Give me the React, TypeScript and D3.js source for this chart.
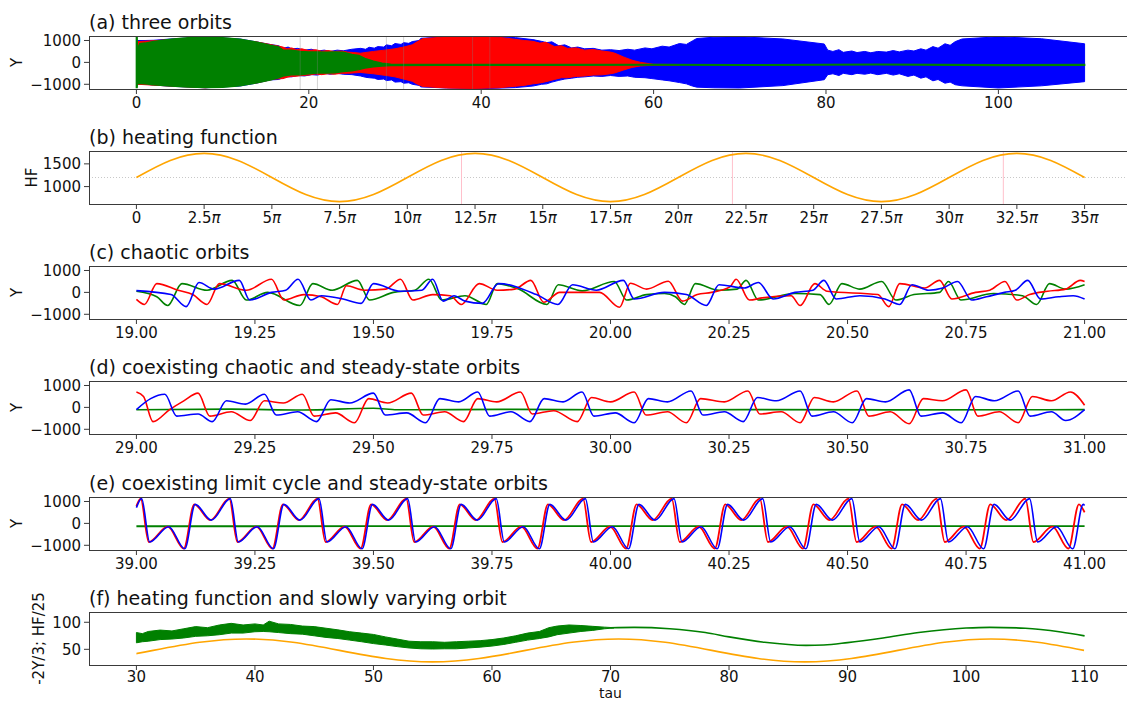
import React from "react";
import * as d3 from "d3";

const FONT = "'DejaVu Sans', Verdana, sans-serif";
const W = 1127;
const H = 702;
const AX_L = 89;
const AX_R = 1132;
const PH = 53;
const TOPS = [36, 151, 266, 381, 497, 612];

// ---------- (a) three orbits : envelopes [tau, upper, lower] ----------
const aBlue: [number, number, number][] = [
  [0.15, 1000, -1000], [1, 1000, -1000], [2, 1010, -1030], [4, 1070, -1090], [8, 1160, -1160],
  [12, 1070, -1080], [14, 930, -940], [15.5, 820, -800], [16.5, 760, -780], [17, 640, -700],
  [17.6, 700, -650], [18, 620, -660], [18.7, 640, -600], [19.5, 560, -620], [20.3, 600, -560],
  [21, 520, -580], [21.8, 560, -500], [22.5, 500, -540], [23.3, 560, -500], [24, 530, -540],
  [25, 600, -560], [26, 640, -620], [26.6, 600, -680], [27, 690, -700], [27.6, 650, -720],
  [28, 720, -780], [28.7, 700, -760], [29, 800, -830], [29.6, 760, -800], [30, 860, -900],
  [30.7, 820, -880], [31, 900, -950], [31.6, 870, -930], [32, 950, -1000], [32.8, 1000, -1050],
  [33, 1100, -1120], [36, 1170, -1170], [40, 1200, -1200], [44, 1130, -1150], [46, 1040, -1080],
  [47, 960, -1000], [47.6, 900, -980], [48.2, 940, -900], [49, 760, -820], [49.7, 800, -760],
  [50.5, 660, -720], [51.2, 700, -680], [52, 620, -660], [53, 640, -620], [54, 560, -640],
  [55, 580, -600], [56, 540, -640], [57, 600, -620], [57.8, 560, -680], [59, 660, -700],
  [59.8, 620, -740], [61, 740, -800], [61.8, 700, -840], [63, 860, -920], [63.8, 820, -980],
  [64.5, 980, -1080], [65, 1090, -1130], [67, 1150, -1160], [70, 1170, -1170], [75, 1070, -1060],
  [79.8, 840, -790], [80.2, 560, -560], [80.8, 500, -520], [81.5, 580, -600], [82, 460, -500],
  [83, 520, -560], [83.6, 450, -500], [84.5, 500, -540], [85.2, 440, -490], [86, 500, -560],
  [87, 470, -500], [87.8, 540, -580], [88.5, 480, -520], [89.5, 560, -640], [90.2, 520, -580],
  [91, 620, -720], [91.6, 560, -660], [92.4, 720, -840], [93, 650, -780], [93.8, 850, -950],
  [94.4, 780, -900], [95, 950, -1020], [95.8, 1070, -1070], [100, 1170, -1170], [105, 1080, -1070],
  [110, 850, -880],
];
const aRed: [number, number, number][] = [
  [0.15, 950, -1000], [2, 990, -1040], [8, 1150, -1160], [14, 930, -930], [16, 780, -760],
  [17, 700, -740], [17.5, 620, -680], [18, 660, -640], [18.6, 580, -630], [19.2, 620, -600],
  [20, 540, -580], [20.8, 580, -530], [21.5, 510, -560], [22.2, 540, -520], [23, 500, -540],
  [23.8, 520, -500], [24.5, 470, -500], [25.2, 450, -480], [26, 420, -460], [27.5, 500, -520],
  [29, 570, -600], [30, 620, -660], [31, 700, -760], [32, 800, -860], [32.6, 950, -1000],
  [33.2, 1080, -1100], [36, 1170, -1170], [39, 1190, -1190], [42, 1150, -1160], [45, 1000, -1050],
  [46, 960, -980], [46.8, 880, -940], [47.5, 920, -880], [48.5, 720, -780], [49.3, 760, -700],
  [50, 640, -700], [51, 660, -640], [52, 560, -620], [53, 590, -580], [54, 520, -570],
  [55, 470, -520], [55.5, 420, -480], [56.5, 250, -350], [57.5, 100, -230], [58.5, 0, -160],
  [59.5, -60, -140], [60, -90, -130], [63, -95, -125],
];
const aGreen: [number, number, number][] = [
  [0, 1160, -1150], [0.08, 1160, -1150], [0.12, 600, -950], [0.4, 850, -960], [1, 880, -980],
  [2, 950, -1020], [4, 1060, -1080], [6, 1120, -1120], [8, 1150, -1150], [10, 1130, -1130],
  [12, 1060, -1070], [14, 920, -930], [15.5, 780, -800], [16.5, 700, -700], [17, 560, -620],
  [18, 560, -560], [19, 500, -560], [20, 480, -520], [21, 470, -480], [22, 460, -480],
  [23, 470, -470], [24, 460, -420], [25, 360, -380], [25.8, 320, -330], [26.5, 180, -260],
  [27.5, 50, -200], [28.5, -40, -160], [29.5, -90, -140], [35, -100, -128], [50, -102, -130],
  [60, -96, -124], [70, -108, -136], [86, -80, -108], [100, -112, -140], [110, -100, -128],
];
const aMarks = [19, 21, 29, 31, 39, 41];
const aXTicks = [0, 20, 40, 60, 80, 100];

// ---------- (b) heating function ----------
const hfTauPi = [0, 1.25, 2.5, 3.75, 5, 6.25, 7.5, 8.75, 10, 11.25, 12.5, 13.75, 15, 16.25, 17.5,
  18.75, 20, 21.25, 22.5, 23.75, 25, 26.25, 27.5, 28.75, 30, 31.25, 32.5, 33.75, 35];
const hfValues = [1200, 1575, 1730, 1575, 1200, 825, 670, 825, 1200, 1575, 1730, 1575, 1200, 825,
  670, 825, 1200, 1575, 1730, 1575, 1200, 825, 670, 825, 1200, 1575, 1730, 1575, 1200];
const hfMean = 1200;
const bMarksPi = [12, 22, 32];
const bXTicksPi = [0, 2.5, 5, 7.5, 10, 12.5, 15, 17.5, 20, 22.5, 25, 27.5, 30, 32.5, 35];

// ---------- (c) chaotic orbits ----------
const cGreen: [number, number][] = [
  [19.0, 50], [19.043, -200], [19.066, -600], [19.096, 400], [19.149, 100], [19.202, 550],
  [19.232, -350], [19.277, 0], [19.345, -600], [19.372, 400], [19.413, 100], [19.466, 550],
  [19.492, -350], [19.542, 0], [19.587, 100], [19.617, 600], [19.644, -350], [19.693, -150],
  [19.738, -550], [19.761, 400], [19.806, 150], [19.866, -550], [19.89, 350], [19.94, 70],
  [20.008, 500], [20.034, -350], [20.076, -100], [20.114, -50], [20.137, -200], [20.156, -550],
  [20.179, 400], [20.229, 100], [20.267, 150], [20.286, 550], [20.312, -350], [20.389, -50],
  [20.442, -100], [20.461, -550], [20.488, 400], [20.526, 150], [20.572, 500], [20.602, -350],
  [20.64, -100], [20.694, 0], [20.713, 500], [20.739, -350], [20.808, -50], [20.869, -150],
  [20.899, -550], [20.926, 400], [20.96, 150], [21.0, 350],
];
const cBlue: [number, number][] = [
  [19.0, 80], [19.073, -100], [19.105, -650], [19.132, 450], [19.164, 150], [19.217, 550],
  [19.239, -350], [19.285, 0], [19.315, 100], [19.341, 600], [19.368, -350], [19.39, -150],
  [19.436, -300], [19.474, -500], [19.5, 400], [19.557, 50], [19.602, 100], [19.625, 600],
  [19.647, -400], [19.67, -150], [19.693, -400], [19.73, -500], [19.764, 400], [19.844, -100],
  [19.889, -550], [19.92, 350], [19.97, 100], [20.027, 550], [20.05, -300], [20.114, 0],
  [20.16, -100], [20.202, -600], [20.229, 350], [20.282, 200], [20.312, 450], [20.343, -300],
  [20.389, 0], [20.427, 100], [20.45, 550], [20.476, -300], [20.526, -150], [20.579, -300],
  [20.61, -550], [20.636, 350], [20.671, 100], [20.701, 200], [20.732, 500], [20.762, -350],
  [20.793, -200], [20.831, 0], [20.854, 100], [20.88, 550], [20.907, -300], [20.945, -200],
  [20.976, -150], [21.0, -300],
];
const cRed: [number, number][] = [
  [19.0, -320], [19.017, -550], [19.043, 400], [19.088, 100], [19.119, -100], [19.149, -550],
  [19.175, 400], [19.232, 100], [19.285, 600], [19.311, -350], [19.353, -100], [19.39, -200],
  [19.424, -550], [19.443, 300], [19.481, 100], [19.526, 150], [19.557, 600], [19.583, -350],
  [19.625, -100], [19.662, -150], [19.685, -550], [19.723, 400], [19.761, 100], [19.798, 150],
  [19.832, 550], [19.859, -450], [19.893, 0], [19.977, 0], [20.019, -680], [20.042, 420],
  [20.076, 150], [20.122, 510], [20.152, -400], [20.183, -100], [20.213, 0], [20.252, 250],
  [20.265, 600], [20.293, -350], [20.32, -250], [20.381, -150], [20.4, -600], [20.431, 400],
  [20.457, 50], [20.564, -100], [20.587, -650], [20.61, 400], [20.663, 200], [20.694, 550],
  [20.72, -300], [20.77, 0], [20.8, 100], [20.832, 500], [20.857, -350], [20.884, -100],
  [20.922, 50], [20.96, 150], [20.991, 550], [21.0, 500],
];

// ---------- (d) coexisting chaotic and steady-state orbits ----------
const dRed: [number, number][] = [
  [29.0, 700], [29.015, 500], [29.035, -650], [29.07, -100], [29.1, 300], [29.13, 650],
  [29.155, -400], [29.2, -200], [29.24, -600], [29.27, 300], [29.31, 200], [29.35, 600],
  [29.375, -400], [29.42, -250], [29.46, -700], [29.49, 400], [29.53, 200], [29.58, 650],
  [29.605, -350], [29.65, -200], [29.69, -650], [29.72, 400], [29.76, 250], [29.81, 700],
  [29.835, -300], [29.88, -150], [29.93, -650], [29.96, 450], [30.0, 250], [30.05, 700],
  [30.075, -350], [30.12, -200], [30.16, -700], [30.19, 400], [30.24, 250], [30.29, 750],
  [30.315, -300], [30.36, -200], [30.4, -700], [30.43, 450], [30.47, 250], [30.52, 750],
  [30.545, -400], [30.59, -200], [30.63, -750], [30.66, 400], [30.7, 300], [30.75, 800],
  [30.775, -400], [30.82, -200], [30.86, -700], [30.89, 500], [30.93, 300], [30.97, 700],
  [31.0, 100],
];
const dBlue: [number, number][] = [
  [29.0, -100], [29.03, 400], [29.06, 600], [29.085, -400], [29.13, -300], [29.16, -650],
  [29.19, 300], [29.23, 150], [29.27, 600], [29.295, -350], [29.34, -200], [29.38, -650],
  [29.41, 350], [29.45, 200], [29.5, 650], [29.525, -350], [29.57, -250], [29.61, -700],
  [29.64, 400], [29.68, 250], [29.72, 700], [29.745, -400], [29.79, -200], [29.83, -650],
  [29.86, 400], [29.9, 250], [29.94, 700], [29.965, -400], [30.01, -250], [30.05, -700],
  [30.08, 400], [30.12, 250], [30.17, 750], [30.195, -350], [30.24, -200], [30.28, -650],
  [30.31, 450], [30.35, 300], [30.4, 750], [30.425, -400], [30.47, -200], [30.51, -700],
  [30.54, 400], [30.58, 250], [30.63, 800], [30.655, -400], [30.7, -250], [30.74, -700],
  [30.77, 500], [30.81, 300], [30.86, 750], [30.885, -400], [30.93, -200], [30.96, -600],
  [31.0, -100],
];
const dGreen: [number, number][] = [
  [29.0, -110], [29.2, -80], [29.35, -120], [29.5, -40], [29.55, -110], [29.8, -90],
  [30.0, -110], [30.3, -100], [30.6, -115], [31.0, -100],
];

// ---------- (e) coexisting limit cycle and steady-state orbits ----------
const eRed: [number, number][] = [
  [39.0, 790],
  [39.009, 1130], [39.026, -850], [39.066, -150], [39.1, -1150], [39.122, 870], [39.156, 150],
  [39.196, 1130], [39.213, -850], [39.253, -150], [39.287, -1150], [39.309, 870], [39.343, 150],
  [39.382, 1130], [39.399, -850], [39.439, -150], [39.473, -1150], [39.495, 870], [39.529, 150],
  [39.569, 1130], [39.586, -850], [39.626, -150], [39.66, -1150], [39.682, 870], [39.716, 150],
  [39.755, 1130], [39.772, -850], [39.812, -150], [39.846, -1150], [39.868, 870], [39.902, 150],
  [39.942, 1130], [39.959, -850], [39.999, -150], [40.033, -1150], [40.055, 870], [40.089, 150],
  [40.129, 1130], [40.146, -850], [40.186, -150], [40.22, -1150], [40.242, 870], [40.276, 150],
  [40.315, 1130], [40.332, -850], [40.372, -150], [40.406, -1150], [40.428, 870], [40.462, 150],
  [40.502, 1130], [40.519, -850], [40.559, -150], [40.593, -1150], [40.615, 870], [40.649, 150],
  [40.688, 1130], [40.705, -850], [40.745, -150], [40.779, -1150], [40.801, 870], [40.835, 150],
  [40.875, 1130], [40.892, -850], [40.932, -150], [40.966, -1150], [40.988, 870], [41.0, 500],
];
const eBlue: [number, number][] = [
  [39.0, 720],
  [39.011, 1130], [39.028, -850], [39.068, -150], [39.102, -1160], [39.124, 870], [39.158, 150],
  [39.198, 1130], [39.215, -850], [39.255, -150], [39.289, -1160], [39.311, 870], [39.345, 150],
  [39.385, 1130], [39.402, -850], [39.442, -150], [39.476, -1160], [39.498, 870], [39.532, 150],
  [39.572, 1130], [39.589, -850], [39.629, -150], [39.663, -1160], [39.685, 870], [39.719, 150],
  [39.759, 1130], [39.776, -850], [39.816, -150], [39.85, -1160], [39.872, 870], [39.906, 150],
  [39.947, 1130], [39.964, -850], [40.004, -150], [40.038, -1160], [40.06, 870], [40.094, 150],
  [40.134, 1130], [40.151, -850], [40.191, -150], [40.225, -1160], [40.247, 870], [40.281, 150],
  [40.321, 1130], [40.338, -850], [40.378, -150], [40.412, -1160], [40.434, 870], [40.468, 150],
  [40.509, 1130], [40.526, -850], [40.566, -150], [40.6, -1160], [40.622, 870], [40.656, 150],
  [40.696, 1130], [40.713, -850], [40.753, -150], [40.787, -1160], [40.809, 870], [40.843, 150],
  [40.884, 1130], [40.901, -850], [40.941, -150], [40.975, -1160], [40.997, 870], [41.0, 820],
];
const eGreen: [number, number][] = [[39.0, -130], [40.0, -128], [41.0, -125]];

// ---------- (f) heating function and slowly varying orbit ----------
const fBand: [number, number, number][] = [
  [30, 81, 62], [30.5, 79, 64], [31, 83, 65], [32, 85.6, 68], [33, 84, 69], [34, 88, 71],
  [35, 92, 74], [36, 90, 75], [37, 95, 77], [38, 98, 80], [39, 95, 80], [40, 97, 82.5],
  [40.7, 95, 83], [41.2, 102, 82.5], [42, 97, 81], [43, 96, 79], [44, 93, 78], [45, 92, 75],
  [46, 89, 72], [47, 86, 70], [48, 82.5, 67], [49, 80, 64], [50, 77.5, 60.6], [51, 73, 58],
  [52, 69, 55], [53, 65, 52.5], [54, 64, 51], [55, 64, 50.6], [56, 63, 51], [57, 64, 51],
  [58, 65, 52.5], [59, 66, 54], [60, 68, 56], [61, 71, 59], [62, 75, 63], [63, 80, 67],
  [64, 83, 70], [64.8, 90, 73], [65.5, 93, 77], [66.5, 95, 80], [67.5, 94, 83], [68.5, 92.5, 85],
  [69.5, 91, 88], [70.3, 90, 89.5],
];
const fSteady: [number, number][] = [
  [70, 90], [72, 90.5], [75, 88], [78, 81], [80, 73], [83, 63], [86.5, 57.3], [88, 58],
  [90, 62.4], [93, 71], [96, 81], [100, 89.3], [102, 90.6], [105, 89], [108, 82], [110, 74.9],
];
const fXTicks = [30, 40, 50, 60, 70, 80, 90, 100, 110];
const yTicksY = [-1000, 0, 1000];

const fmt2 = (v: number) => v.toFixed(2);
const minus = (v: number) => (v < 0 ? "\u2212" + Math.abs(v) : String(v));

type Tick = { v: number; label: React.ReactNode };

function Panel(props: {
  id: string;
  top: number;
  xs: d3.ScaleLinear<number, number>;
  ys: d3.ScaleLinear<number, number>;
  xTicks: Tick[];
  yTicks: Tick[];
  title: string;
  ylabel: string;
  ylabelX: number;
  xLabelDy?: number;
  children: React.ReactNode;
}) {
  const { id, top, xs, ys, xTicks, yTicks, title, ylabel, ylabelX, children } = props;
  const bottom = top + PH;
  const xdy = props.xLabelDy ?? 19;
  return (
    <g>
      <defs>
        <clipPath id={id}>
          <rect x={AX_L} y={top} width={AX_R - AX_L} height={PH} />
        </clipPath>
      </defs>
      <g clipPath={`url(#${id})`}>{children}</g>
      <rect x={AX_L + 0.5} y={top + 0.5} width={AX_R - AX_L} height={PH} fill="none" stroke="#3a3a3a" strokeWidth={1} />
      {xTicks.map((t, i) => (
        <g key={"x" + i}>
          <line x1={xs(t.v)} x2={xs(t.v)} y1={bottom} y2={bottom + 5} stroke="#3a3a3a" strokeWidth={1} />
          <text x={xs(t.v)} y={bottom + xdy} textAnchor="middle" fontSize={15} fill="#111">
            {t.label}
          </text>
        </g>
      ))}
      {yTicks.map((t, i) => (
        <g key={"y" + i}>
          <line x1={AX_L - 5} x2={AX_L} y1={ys(t.v)} y2={ys(t.v)} stroke="#3a3a3a" strokeWidth={1} />
          <text x={AX_L - 8} y={ys(t.v)} dy="0.36em" textAnchor="end" fontSize={15} fill="#111">
            {t.label}
          </text>
        </g>
      ))}
      <text x={AX_L} y={top - 7} fontSize={19} fill="#111">
        {title}
      </text>
      <text
        transform={`translate(${ylabelX},${top + PH / 2}) rotate(-90)`}
        textAnchor="middle"
        fontSize={15}
        fill="#111"
      >
        {ylabel}
      </text>
    </g>
  );
}

function piLabel(v: number): React.ReactNode {
  if (v === 0) return "0";
  return (
    <>
      {String(v)}
      <tspan fontStyle="italic">π</tspan>
    </>
  );
}

export default function App() {
  const yY = (top: number) => d3.scaleLinear().domain([-1215, 1205]).range([top + PH, top]);

  // (a)
  const xa = d3.scaleLinear().domain([-5.5, 115.5]).range([AX_L, AX_R]);
  const ya = yY(TOPS[0]);
  const areaA = d3
    .area<[number, number, number]>()
    .x((d) => xa(d[0]))
    .y0((d) => ya(d[2]))
    .y1((d) => ya(d[1]))
    .curve(d3.curveLinear);

  // (b)
  const PI = Math.PI;
  const xb = d3.scaleLinear().domain([-1.75 * PI, 36.75 * PI]).range([AX_L, AX_R]);
  const yb = d3.scaleLinear().domain([617, 1783]).range([TOPS[1] + PH, TOPS[1]]);
  const hfPts: [number, number][] = hfTauPi.map((t, i) => [t * PI, hfValues[i]]);
  const lineB = d3
    .line<[number, number]>()
    .x((d) => xb(d[0]))
    .y((d) => yb(d[1]))
    .curve(d3.curveNatural);

  // (c),(d),(e)
  const mkX = (a: number) => d3.scaleLinear().domain([a - 0.1, a + 2.1]).range([AX_L, AX_R]);
  const xc = mkX(19), xd = mkX(29), xe = mkX(39);
  const yc = yY(TOPS[2]), yd = yY(TOPS[3]), ye = yY(TOPS[4]);
  const mkLine = (xs: d3.ScaleLinear<number, number>, ys: d3.ScaleLinear<number, number>) =>
    d3
      .line<[number, number]>()
      .x((d) => xs(d[0]))
      .y((d) => ys(d[1]))
      .curve(d3.curveMonotoneX);
  const lc = mkLine(xc, yc), ld = mkLine(xd, yd), le = mkLine(xe, ye);
  const ticks8 = (a: number) => d3.range(0, 9).map((i) => a + i * 0.25);

  // (f)
  const xf = d3.scaleLinear().domain([26, 114]).range([AX_L, AX_R]);
  const yf = d3.scaleLinear().domain([21, 119]).range([TOPS[5] + PH, TOPS[5]]);
  const hfF = d3
    .line<[number, number]>()
    .x((d) => xf(d[0]))
    .y((d) => yf(d[1] / 25))
    .curve(d3.curveNatural);
  const bandF = d3
    .area<[number, number, number]>()
    .x((d) => xf(d[0]))
    .y0((d) => yf(d[2]))
    .y1((d) => yf(d[1]))
    .curve(d3.curveLinear);
  const steadyF = d3
    .line<[number, number]>()
    .x((d) => xf(d[0]))
    .y((d) => yf(d[1]))
    .curve(d3.curveMonotoneX);

  const yTicksStd: Tick[] = yTicksY.map((v) => ({ v, label: minus(v) }));

  return (
    <svg
      width={W}
      height={H}
      style={{ position: "absolute", left: 0, top: 0, background: "#fff" }}
      fontFamily={FONT}
    >
      <rect x={0} y={0} width={W} height={H} fill="#fff" />

      {/* (a) */}
      <Panel
        id="clipA"
        top={TOPS[0]}
        xs={xa}
        ys={ya}
        xTicks={aXTicks.map((v) => ({ v, label: String(v) }))}
        yTicks={yTicksStd}
        title="(a) three orbits"
        ylabel="Y"
        ylabelX={22}
      >
        <path d={areaA(aBlue) || ""} fill="#0000ff" stroke="#0000ff" strokeWidth={1} />
        <path d={areaA(aRed) || ""} fill="#ff0000" stroke="#ff0000" strokeWidth={1} />
        <path d={areaA(aGreen) || ""} fill="#008000" stroke="#008000" strokeWidth={1.5} />
        {aMarks.map((m) => (
          <line key={m} x1={xa(m)} x2={xa(m)} y1={TOPS[0]} y2={TOPS[0] + PH} stroke="#808080" strokeOpacity={0.35} strokeWidth={1} />
        ))}
      </Panel>

      {/* (b) */}
      <Panel
        id="clipB"
        top={TOPS[1]}
        xs={xb}
        ys={yb}
        xTicks={bXTicksPi.map((v) => ({ v: v * PI, label: piLabel(v) }))}
        yTicks={[1000, 1500].map((v) => ({ v, label: String(v) }))}
        title="(b) heating function"
        ylabel="HF"
        ylabelX={37}
      >
        <line x1={AX_L} x2={AX_R} y1={yb(hfMean)} y2={yb(hfMean)} stroke="#c8c8c8" strokeWidth={1} strokeDasharray="1,2" />
        {bMarksPi.map((m) => (
          <line key={m} x1={xb(m * PI)} x2={xb(m * PI)} y1={TOPS[1]} y2={TOPS[1] + PH} stroke="pink" strokeWidth={1} />
        ))}
        <path d={lineB(hfPts) || ""} fill="none" stroke="orange" strokeWidth={1.6} />
      </Panel>

      {/* (c) */}
      <Panel
        id="clipC"
        top={TOPS[2]}
        xs={xc}
        ys={yc}
        xTicks={ticks8(19).map((v) => ({ v, label: fmt2(v) }))}
        yTicks={yTicksStd}
        title="(c) chaotic orbits"
        ylabel="Y"
        ylabelX={22}
      >
        <path d={lc(cGreen) || ""} fill="none" stroke="#008000" strokeWidth={1.6} />
        <path d={lc(cRed) || ""} fill="none" stroke="#ff0000" strokeWidth={1.6} />
        <path d={lc(cBlue) || ""} fill="none" stroke="#0000ff" strokeWidth={1.6} />
      </Panel>

      {/* (d) */}
      <Panel
        id="clipD"
        top={TOPS[3]}
        xs={xd}
        ys={yd}
        xTicks={ticks8(29).map((v) => ({ v, label: fmt2(v) }))}
        yTicks={yTicksStd}
        title="(d) coexisting chaotic and steady-state orbits"
        ylabel="Y"
        ylabelX={22}
      >
        <path d={ld(dGreen) || ""} fill="none" stroke="#008000" strokeWidth={1.6} />
        <path d={ld(dRed) || ""} fill="none" stroke="#ff0000" strokeWidth={1.6} />
        <path d={ld(dBlue) || ""} fill="none" stroke="#0000ff" strokeWidth={1.6} />
      </Panel>

      {/* (e) */}
      <Panel
        id="clipE"
        top={TOPS[4]}
        xs={xe}
        ys={ye}
        xTicks={ticks8(39).map((v) => ({ v, label: fmt2(v) }))}
        yTicks={yTicksStd}
        title="(e) coexisting limit cycle and steady-state orbits"
        ylabel="Y"
        ylabelX={22}
      >
        <path d={le(eGreen) || ""} fill="none" stroke="#008000" strokeWidth={1.8} />
        <path d={le(eRed) || ""} fill="none" stroke="#ff0000" strokeWidth={1.8} />
        <path d={le(eBlue) || ""} fill="none" stroke="#0000ff" strokeWidth={1.6} />
      </Panel>

      {/* (f) */}
      <defs>
        <clipPath id="clipF30">
          <rect x={xf(30)} y={TOPS[5]} width={xf(110) - xf(30)} height={PH} />
        </clipPath>
      </defs>
      <Panel
        id="clipF"
        top={TOPS[5]}
        xs={xf}
        ys={yf}
        xTicks={fXTicks.map((v) => ({ v, label: String(v) }))}
        yTicks={[50, 100].map((v) => ({ v, label: String(v) }))}
        title="(f) heating function and slowly varying orbit"
        ylabel="-2Y/3; HF/25"
        ylabelX={44}
        xLabelDy={17}
      >
        <g clipPath="url(#clipF30)">
          <path d={hfF(hfPts) || ""} fill="none" stroke="orange" strokeWidth={1.6} />
        </g>
        <path d={bandF(fBand) || ""} fill="#008000" stroke="#008000" strokeWidth={1} />
        <path d={steadyF(fSteady) || ""} fill="none" stroke="#008000" strokeWidth={1.6} />
      </Panel>
      <text x={(AX_L + AX_R) / 2} y={698} textAnchor="middle" fontSize={14} fill="#111">
        tau
      </text>
    </svg>
  );
}
